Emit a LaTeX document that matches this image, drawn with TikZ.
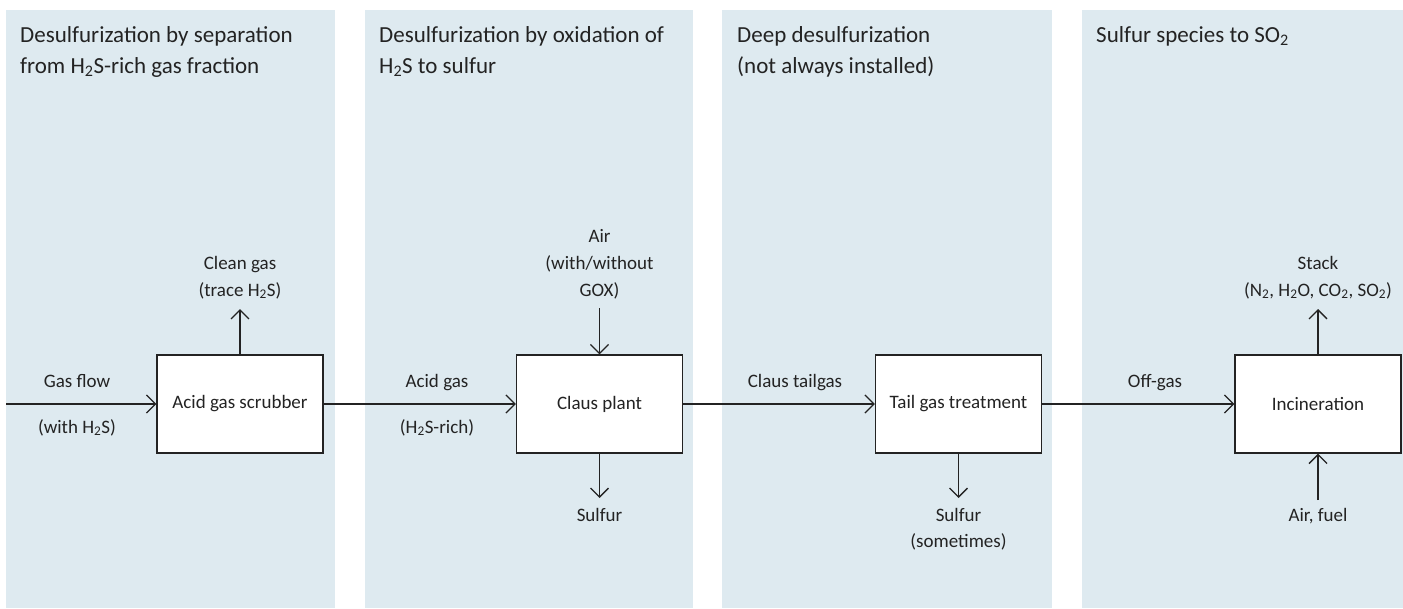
\documentclass[tikz,border=0pt]{standalone}
\usepackage{fontspec}
\setmainfont{Carlito}
\usetikzlibrary{arrows.meta}
\definecolor{panelblue}{RGB}{222,234,240}
\definecolor{ink}{RGB}{35,35,35}
\newcommand{\sub}[1]{\textsubscript{#1}}

\begin{document}
\begin{tikzpicture}[x=1pt,y=-1pt,
  panel/.style={fill=panelblue,draw=none},
  unit/.style={draw=ink,fill=white,line width=1.3pt,minimum width=166pt,minimum height=98pt,
    inner sep=0pt,font=\fontsize{19}{23}\selectfont,text=ink},
  flow/.style={draw=ink,line width=1.3pt,-{Straight Barb[length=9pt,width=18pt,line width=1.3pt]}},
  lbl/.style={anchor=base,inner sep=0pt,font=\fontsize{19}{23}\selectfont,text=ink},
  ttl/.style={anchor=base west,inner sep=0pt,font=\fontsize{23}{28}\selectfont,text=ink}]
\useasboundingbox (0,0) rectangle (1403,608);

% stage panels
\fill[panel] (6,10) rectangle (335,608);
\fill[panel] (365,10) rectangle (693,608);
\fill[panel] (722,10) rectangle (1052,608);
\fill[panel] (1082,10) rectangle (1403,608);

% stage titles
\node[ttl] (t1a) at (20,42) {Desulfurization by separation};
\node[ttl] (t1b) at (20,73) {from H\sub{2}S-rich gas fraction};
\node[ttl] (t2a) at (379,42) {Desulfurization by oxidation of};
\node[ttl] (t2b) at (379,73) {H\sub{2}S to sulfur};
\node[ttl] (t3a) at (737,42) {Deep desulfurization};
\node[ttl] (t3b) at (737,73) {(not always installed)};
\node[ttl] (t4a) at (1096,42) {Sulfur species to SO\sub{2}};

% process units
\node[unit] (scrub) at (240,404) {Acid gas scrubber};
\node[unit] (claus) at (599.5,404) {Claus plant};
\node[unit] (tgt) at (958.5,404) {Tail gas treatment};
\node[unit] (incin) at (1318,404) {Incineration};

% free stream ends
\coordinate (gasin) at (6,404);
\coordinate (cleanout) at (240,309);
\coordinate (airin) at (599.5,308);
\coordinate (sulfout) at (599.5,498);
\coordinate (sulftgt) at (958.5,498);
\coordinate (stackout) at (1318,309);
\coordinate (fuelin) at (1318,500);

% streams
\draw[flow] (gasin) -- (scrub.west);
\draw[flow] (scrub.north) -- (cleanout);
\draw[flow] (scrub.east) -- (claus.west);
\draw[flow] (airin) -- (claus.north);
\draw[flow] (claus.south) -- (sulfout);
\draw[flow] (claus.east) -- (tgt.west);
\draw[flow] (tgt.south) -- (sulftgt);
\draw[flow] (tgt.east) -- (incin.west);
\draw[flow] (incin.north) -- (stackout);
\draw[flow] (fuelin) -- (incin.south);

% stream labels
\node[lbl] (l1a) at (77,387) {Gas flow};
\node[lbl] (l1b) at (77,433) {(with H\sub{2}S)};
\node[lbl] (l2a) at (240,269) {Clean gas};
\node[lbl] (l2b) at (240,296) {(trace H\sub{2}S)};
\node[lbl] (l3a) at (437,387) {Acid gas};
\node[lbl] (l3b) at (437,433) {(H\sub{2}S-rich)};
\node[lbl] (l4a) at (599.5,242) {Air};
\node[lbl] (l4b) at (599.5,269) {(with/without};
\node[lbl] (l4c) at (599.5,296) {GOX)};
\node[lbl] (l5) at (599.5,521) {Sulfur};
\node[lbl] (l6) at (795,387) {Claus tailgas};
\node[lbl] (l7a) at (958.5,521) {Sulfur};
\node[lbl] (l7b) at (958.5,547) {(sometimes)};
\node[lbl] (l8) at (1155,387) {Off-gas};
\node[lbl] (l9a) at (1318,269) {Stack};
\node[lbl] (l9b) at (1318,296) {(N\sub{2}, H\sub{2}O, CO\sub{2}, SO\sub{2})};
\node[lbl] (l10) at (1318,521) {Air, fuel};
\end{tikzpicture}
\end{document}
